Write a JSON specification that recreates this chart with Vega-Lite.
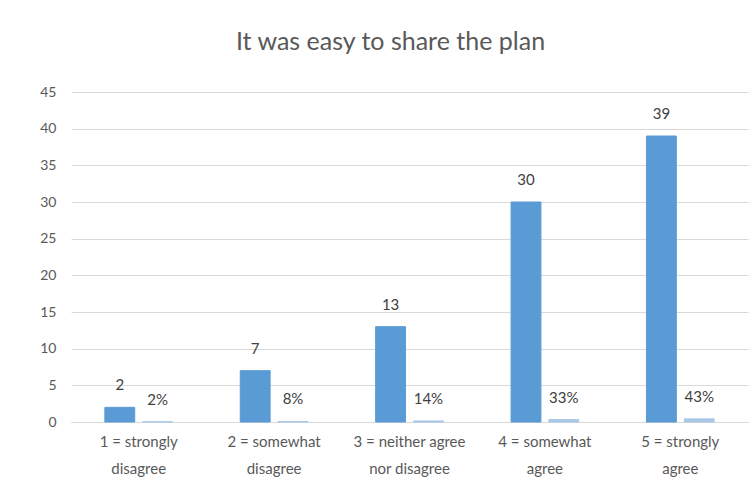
{
  "$schema": "https://vega.github.io/schema/vega-lite/v6.json",
  "autosize": {"type": "none"},
  "width": 677,
  "height": 330,
  "padding": {"left": 71, "top": 92, "right": 6, "bottom": 73},
  "background": "white",
  "config": {
    "view": {"stroke": null},
    "font": "Lato",
    "axis": {"labelFont": "Lato", "labelColor": "#595959", "labelFontSize": 14}
  },
  "title": {
    "text": "It was easy to share the plan",
    "font": "Lato",
    "fontSize": 25,
    "fontWeight": "normal",
    "color": "#595959",
    "anchor": "middle",
    "dx": -19,
    "offset": 30
  },
  "data": {
    "values": [
      {"category": "1 = strongly|disagree", "series": "Count", "value": 2, "label": "2"},
      {"category": "1 = strongly|disagree", "series": "Percent", "value": 0.022, "label": "2%"},
      {"category": "2 = somewhat|disagree", "series": "Count", "value": 7, "label": "7"},
      {"category": "2 = somewhat|disagree", "series": "Percent", "value": 0.077, "label": "8%"},
      {"category": "3 = neither agree|nor disagree", "series": "Count", "value": 13, "label": "13"},
      {"category": "3 = neither agree|nor disagree", "series": "Percent", "value": 0.143, "label": "14%"},
      {"category": "4 = somewhat|agree", "series": "Count", "value": 30, "label": "30"},
      {"category": "4 = somewhat|agree", "series": "Percent", "value": 0.33, "label": "33%"},
      {"category": "5 = strongly|agree", "series": "Count", "value": 39, "label": "39"},
      {"category": "5 = strongly|agree", "series": "Percent", "value": 0.429, "label": "43%"}
    ]
  },
  "encoding": {
    "x": {
      "field": "category",
      "type": "nominal",
      "sort": null,
      "scale": {"paddingInner": 0.5, "paddingOuter": 0.25},
      "axis": {
        "title": null,
        "labelAngle": 0,
        "labelExpr": "split(datum.label, '|')",
        "labelLineHeight": 27,
        "labelPadding": 12,
        "labelFontSize": 15,
        "ticks": false,
        "domain": true,
        "domainColor": "#D9D9D9",
        "labelBaseline": "top"
      }
    },
    "xOffset": {
      "field": "series",
      "type": "nominal",
      "scale": {"paddingInner": 0.21, "paddingOuter": 0}
    },
    "y": {
      "field": "value",
      "type": "quantitative",
      "scale": {"domain": [0, 45], "nice": false},
      "axis": {
        "title": null,
        "values": [0, 5, 10, 15, 20, 25, 30, 35, 40, 45],
        "grid": true,
        "gridColor": "#D9D9D9",
        "domain": false,
        "ticks": false,
        "labelPadding": 15
      }
    }
  },
  "layer": [
    {
      "mark": {"type": "bar", "strokeWidth": 1},
      "encoding": {
        "color": {
          "field": "series",
          "type": "nominal",
          "scale": {"domain": ["Count", "Percent"], "range": ["#5B9BD5", "#A9C8E8"]},
          "legend": null
        },
        "stroke": {
          "field": "series",
          "type": "nominal",
          "scale": {"domain": ["Count", "Percent"], "range": ["#5B9BD5", "#A9C8E8"]},
          "legend": null
        }
      }
    },
    {
      "mark": {"type": "text", "baseline": "bottom", "dy": -14, "fontSize": 15, "color": "#404040", "font": "Lato"},
      "encoding": {"text": {"field": "label"}}
    }
  ]
}
